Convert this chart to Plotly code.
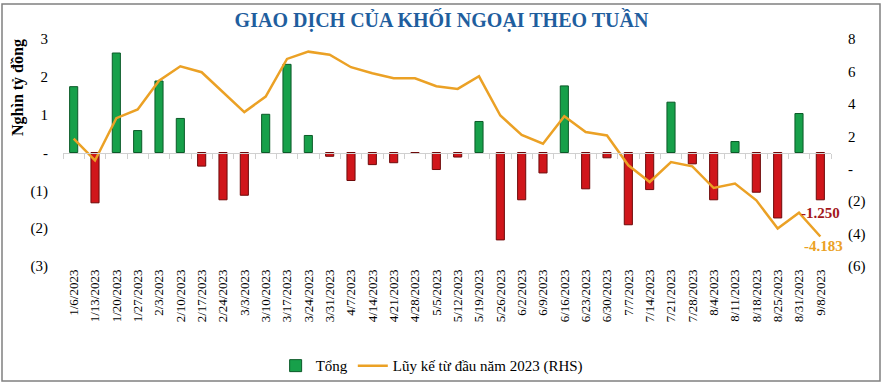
import plotly.graph_objects as go

dates = ["1/6/2023", "1/13/2023", "1/20/2023", "1/27/2023", "2/3/2023", "2/10/2023",
         "2/17/2023", "2/24/2023", "3/3/2023", "3/10/2023", "3/17/2023", "3/24/2023",
         "3/31/2023", "4/7/2023", "4/14/2023", "4/21/2023", "4/28/2023", "5/5/2023",
         "5/12/2023", "5/19/2023", "5/26/2023", "6/2/2023", "6/9/2023", "6/16/2023",
         "6/23/2023", "6/30/2023", "7/7/2023", "7/14/2023", "7/21/2023", "7/28/2023",
         "8/4/2023", "8/11/2023", "8/18/2023", "8/25/2023", "8/31/2023", "9/8/2023"]

weekly_total = [1.74, -1.33, 2.63, 0.58, 1.89, 0.90, -0.36, -1.25, -1.13, 1.01, 2.33, 0.45,
                -0.10, -0.74, -0.32, -0.27, -0.02, -0.45, -0.12, 0.82, -2.31, -1.25, -0.54, 1.76,
                -0.96, -0.14, -1.91, -0.98, 1.33, -0.30, -1.25, 0.29, -1.05, -1.73, 1.03, -1.25]

cumulative = [1.85, 0.51, 3.12, 3.65, 5.43, 6.32, 5.95, 4.72, 3.49, 4.45, 6.77, 7.22,
              7.03, 6.26, 5.89, 5.58, 5.58, 5.09, 4.92, 5.70, 3.28, 2.09, 1.54, 3.24,
              2.26, 2.05, 0.21, -0.82, 0.41, 0.15, -1.19, -0.92, -1.95, -3.69, -2.71, -4.183]

left_tickvals = [-3, -2, -1, 0, 1, 2, 3]
left_ticktext = ["(3)", "(2)", "(1)", "-", "1", "2", "3"]
right_tickvals = [-6, -4, -2, 0, 2, 4, 6, 8]
right_ticktext = ["(6)", "(4)", "(2)", "-", "2", "4", "6", "8"]

title_text = "GIAO DỊCH CỦA KHỐI NGOẠI THEO TUẦN"
y_title = "Nghìn tỷ đồng"
bar_name = "Tổng"
line_name = "Lũy kế từ đầu năm 2023 (RHS)"

SERIF = "Liberation Serif, Times New Roman, serif"
GREEN = "#17A04A"
GREEN_DARK = "#0B5A28"
RED = "#D0161B"
RED_DARK = "#6E0A0A"
ORANGE = "#EBA125"

bar_colors = [GREEN if v >= 0 else RED for v in weekly_total]
bar_lines = [GREEN_DARK if v >= 0 else RED_DARK for v in weekly_total]

fig = go.Figure()
fig.add_trace(go.Bar(
    x=dates, y=weekly_total, name=bar_name,
    marker=dict(color=bar_colors, line=dict(color=bar_lines, width=1)),
    width=0.38, xaxis="x", yaxis="y",
))
# invisible copy used to draw the axis line at zero with boundary ticks
fig.add_trace(go.Bar(
    x=dates, y=weekly_total, showlegend=False, hoverinfo="skip",
    marker=dict(color="rgba(0,0,0,0)"), width=0.38, xaxis="x2", yaxis="y",
))
fig.add_trace(go.Scatter(
    x=dates, y=cumulative, name=line_name, mode="lines",
    line=dict(color=ORANGE, width=2.5), xaxis="x", yaxis="y2",
))

fig.update_layout(
    template="none",
    width=883, height=386,
    paper_bgcolor="white", plot_bgcolor="white",
    margin=dict(l=63, r=52, t=39, b=120, autoexpand=False),
    font=dict(family=SERIF, color="black"),
    title=dict(text="<b>" + title_text + "</b>", x=0.5, xanchor="center",
               y=0.948, yanchor="middle",
               font=dict(family=SERIF, size=20, color="#1F5E9E")),
    showlegend=True,
    legend=dict(orientation="h", x=0.48, xanchor="center", y=-0.44, yanchor="middle",
                font=dict(family=SERIF, size=15), bgcolor="rgba(0,0,0,0)",
                itemwidth=30, traceorder="normal"),
    xaxis=dict(type="category", categoryorder="array", categoryarray=dates,
               range=[-0.5, 35.5], tickangle=-90, showline=False, showgrid=False,
               ticks="", tickfont=dict(family=SERIF, size=13, color="black"),
               zeroline=False, automargin=False),
    xaxis2=dict(type="category", categoryorder="array", categoryarray=dates,
                range=[-0.5, 35.5], overlaying="x", anchor="free", position=0.5,
                showline=True, linecolor="#D0D0D0", linewidth=1,
                ticks="outside", tickson="boundaries", ticklen=5, tickcolor="#D0D0D0",
                showticklabels=False, showgrid=False, zeroline=False, automargin=False),
    yaxis=dict(range=[-3, 3], tickvals=left_tickvals, ticktext=left_ticktext,
               showgrid=False, zeroline=False, showline=False, ticks="",
               ticklabelstandoff=14, automargin=False,
               tickfont=dict(family=SERIF, size=15, color="black")),
    yaxis2=dict(range=[-6, 8], tickvals=right_tickvals, ticktext=right_ticktext,
                overlaying="y", side="right", showgrid=False, zeroline=False,
                showline=False, ticks="", ticklabelstandoff=16, automargin=False,
                tickfont=dict(family=SERIF, size=15, color="black")),
)

fig.add_annotation(text="<b>" + y_title + "</b>", textangle=-90,
                   xref="paper", yref="paper", x=(18 - 63) / 768, y=(266 - 88) / 227,
                   xanchor="center", yanchor="middle",
                   showarrow=False, font=dict(family=SERIF, size=16, color="black"))

fig.add_annotation(text="<b>-1.250</b>", x=dates[-1], y=weekly_total[-1], xref="x", yref="y",
                   showarrow=False, yshift=-13, xshift=0,
                   font=dict(family=SERIF, size=15, color="#A3171B"))
fig.add_annotation(text="<b>-4.183</b>", x=dates[-1], y=cumulative[-1], xref="x", yref="y2",
                   showarrow=False, yshift=-9, xshift=3,
                   font=dict(family=SERIF, size=15, color=ORANGE))

# outer frame
fig.add_shape(type="rect", xref="paper", yref="paper",
              x0=(2 - 63) / 768, x1=(880 - 63) / 768,
              y0=(266 - 381) / 227, y1=(266 - 4) / 227,
              line=dict(color="#808080", width=1.5), fillcolor="rgba(0,0,0,0)", layer="below")

fig.write_html("out.html", config={"displayModeBar": False},
               post_script="document.body.style.margin='0';document.body.style.overflow='hidden';")
